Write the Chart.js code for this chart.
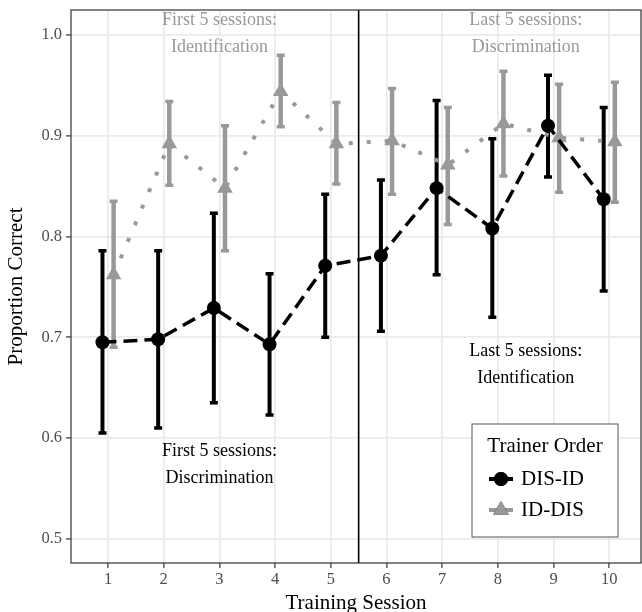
<!DOCTYPE html>
<html>
<head>
<meta charset="utf-8">
<script src="https://cdn.jsdelivr.net/npm/chart.js@4.4.1/dist/chart.umd.min.js"></script>
<style>
  body { margin: 0; background: #fff; }
  #wrap { width: 642px; height: 612px; }
</style>
</head>
<body>
<div id="wrap"><canvas id="trainingChart" width="642" height="612"></canvas></div>
<script>
// sessions and y ticks
var sessions = [1, 2, 3, 4, 5, 6, 7, 8, 9, 10];
var yTicks = [0.5, 0.6, 0.7, 0.8, 0.9, 1.0];

// DIS-ID group (mean and error bar ends)
var disMean = [0.695, 0.698, 0.729, 0.693, 0.771, 0.781, 0.848, 0.808, 0.910, 0.837];
var disLow  = [0.605, 0.610, 0.635, 0.623, 0.700, 0.706, 0.762, 0.720, 0.859, 0.746];
var disHigh = [0.786, 0.786, 0.823, 0.763, 0.842, 0.856, 0.935, 0.897, 0.960, 0.928];

// ID-DIS group
var idMean = [0.762, 0.892, 0.848, 0.944, 0.892, 0.895, 0.871, 0.912, 0.898, 0.894];
var idLow  = [0.690, 0.851, 0.786, 0.909, 0.852, 0.842, 0.812, 0.860, 0.844, 0.834];
var idHigh = [0.835, 0.934, 0.910, 0.980, 0.933, 0.947, 0.928, 0.964, 0.951, 0.953];

var groupNames = ['DIS-ID', 'ID-DIS'];

// text notes in the panel
var notes = [
    { lines: ['First 5 sessions:', 'Identification'], x: 3, y: 1.0149, color: '#999999' },
    { lines: ['Last 5 sessions:', 'Discrimination'], x: 8.5, y: 1.0149, color: '#999999' },
    { lines: ['First 5 sessions:', 'Discrimination'], x: 3, y: 0.5873, color: '#000000' },
    { lines: ['Last 5 sessions:', 'Identification'], x: 8.5, y: 0.6865, color: '#000000' }
];

var SERIF = '"Liberation Serif", "Times New Roman", serif';
var dodge = 0.1;

function points(means, shift) {
    return sessions.map(function (s, i) {
        return { x: s + shift, y: means[i] };
    });
}

// error bars, separator line, notes, border and legend
var extras = {
    id: 'extras',
    beforeDatasetsDraw: function (chart) {
        var ctx = chart.ctx, xs = chart.scales.x, ys = chart.scales.y, a = chart.chartArea;
        ctx.save();
        // separator between the two halves
        ctx.strokeStyle = '#000';
        ctx.lineWidth = 1.6;
        ctx.beginPath();
        ctx.moveTo(xs.getPixelForValue(5.5), a.top);
        ctx.lineTo(xs.getPixelForValue(5.5), a.bottom);
        ctx.stroke();

        // error bars, grey group underneath
        var bars = [
            { low: idLow, high: idHigh, shift: dodge, color: '#999999', w: 4.5 },
            { low: disLow, high: disHigh, shift: -dodge, color: '#000000', w: 4 }
        ];
        bars.forEach(function (b) {
            ctx.strokeStyle = b.color;
            sessions.forEach(function (s, i) {
                var px = xs.getPixelForValue(s + b.shift);
                var lo = ys.getPixelForValue(b.low[i]);
                var hi = ys.getPixelForValue(b.high[i]);
                ctx.lineWidth = b.w;
                ctx.beginPath();
                ctx.moveTo(px, lo);
                ctx.lineTo(px, hi);
                ctx.stroke();
                ctx.lineWidth = 3.5;
                ctx.beginPath();
                ctx.moveTo(px - 4, lo); ctx.lineTo(px + 4, lo);
                ctx.moveTo(px - 4, hi); ctx.lineTo(px + 4, hi);
                ctx.stroke();
            });
        });

        // notes
        ctx.font = '18px ' + SERIF;
        ctx.textAlign = 'center';
        ctx.textBaseline = 'middle';
        notes.forEach(function (n) {
            ctx.fillStyle = n.color;
            var px = xs.getPixelForValue(n.x), py = ys.getPixelForValue(n.y);
            n.lines.forEach(function (t, k) {
                ctx.fillText(t, px, py + k * 27);
            });
        });
        ctx.restore();
    },
    afterDraw: function (chart) {
        var ctx = chart.ctx, a = chart.chartArea;
        ctx.save();
        ctx.strokeStyle = '#333333';
        ctx.lineWidth = 1.2;
        ctx.strokeRect(a.left, a.top, a.right - a.left, a.bottom - a.top);

        // legend box
        var lx = a.right - 169, ly = a.top + 414, lw = 146, lh = 113;
        ctx.fillStyle = '#fff';
        ctx.fillRect(lx, ly, lw, lh);
        ctx.strokeStyle = '#555555';
        ctx.lineWidth = 1;
        ctx.strokeRect(lx, ly, lw, lh);
        ctx.fillStyle = '#000';
        ctx.font = '21px ' + SERIF;
        ctx.textAlign = 'center';
        ctx.textBaseline = 'middle';
        ctx.fillText('Trainer Order', lx + 73, ly + 22);
        ctx.textAlign = 'left';
        chart.data.datasets.forEach(function (ds, i) {
            var cy = ly + 55 + i * 31;
            ctx.strokeStyle = ds.borderColor;
            ctx.lineWidth = 4;
            ctx.setLineDash([]);
            ctx.beginPath();
            ctx.moveTo(lx + 17, cy);
            ctx.lineTo(lx + 41, cy);
            ctx.stroke();
            Chart.helpers.drawPoint(ctx, {
                pointStyle: ds.pointStyle, radius: ds.pointRadius, borderWidth: 0
            }, lx + 29, cy);
            ctx.fillStyle = ds.pointBackgroundColor;
            ctx.fill();
            ctx.fillStyle = '#000';
            ctx.fillText(ds.label, lx + 49, cy);
        });
        ctx.restore();
    }
};

var ctx = document.getElementById('trainingChart').getContext('2d');
var trainingChart = new Chart(ctx, {
    type: 'scatter',
    data: {
        datasets: [{
            label: groupNames[0],
            data: points(disMean, -dodge),
            showLine: true,
            borderColor: '#000000',
            borderWidth: 3.5,
            borderDash: [14, 7],
            pointStyle: 'circle',
            pointRadius: 7,
            pointBackgroundColor: '#000000',
            pointBorderWidth: 0
        }, {
            label: groupNames[1],
            data: points(idMean, dodge),
            showLine: true,
            borderColor: '#999999',
            borderWidth: 4,
            borderDash: [4, 14],
            pointStyle: 'triangle',
            pointRadius: 9,
            pointBackgroundColor: '#999999',
            pointBorderWidth: 0
        }]
    },
    options: {
        responsive: false,
        animation: false,
        layout: { autoPadding: false, padding: { top: 10, right: 1, left: 0, bottom: 0 } },
        plugins: {
            legend: { display: false },
            tooltip: { enabled: false }
        },
        scales: {
            x: {
                type: 'linear',
                min: 0.335,
                max: 10.57,
                afterBuildTicks: function (scale) {
                    scale.ticks = sessions.map(function (v) { return { value: v }; });
                },
                afterFit: function (scale) {
                    scale.height = 49;
                    scale.paddingLeft = 0;
                    scale.paddingRight = 0;
                },
                border: { display: false },
                grid: { color: '#ebebeb', lineWidth: 1.8, tickLength: 5, tickColor: '#333333', tickWidth: 1.2 },
                ticks: {
                    color: '#4d4d4d',
                    padding: 2,
                    font: { family: SERIF, size: 16.5 },
                    callback: function (v) { return String(v); }
                },
                title: {
                    display: true,
                    text: 'Training Session',
                    color: '#000',
                    font: { family: SERIF, size: 21, lineHeight: 1 },
                    padding: { top: 0, bottom: -2 }
                }
            },
            y: {
                min: 0.476,
                max: 1.0248,
                afterBuildTicks: function (scale) {
                    scale.ticks = yTicks.map(function (v) { return { value: v }; });
                },
                afterFit: function (scale) {
                    scale.width = 71;
                    scale.paddingTop = 0;
                    scale.paddingBottom = 0;
                },
                border: { display: false },
                grid: { color: '#ebebeb', lineWidth: 1.8, tickLength: 5, tickColor: '#333333', tickWidth: 1.2 },
                ticks: {
                    color: '#4d4d4d',
                    padding: 4,
                    font: { family: SERIF, size: 16.5 },
                    callback: function (v) { return v.toFixed(1); }
                },
                title: {
                    display: true,
                    text: 'Proportion Correct',
                    color: '#000',
                    font: { family: SERIF, size: 21, lineHeight: 1.2 },
                    padding: { top: 4, bottom: 0 }
                }
            }
        }
    },
    plugins: [extras]
});
</script>
</body>
</html>
